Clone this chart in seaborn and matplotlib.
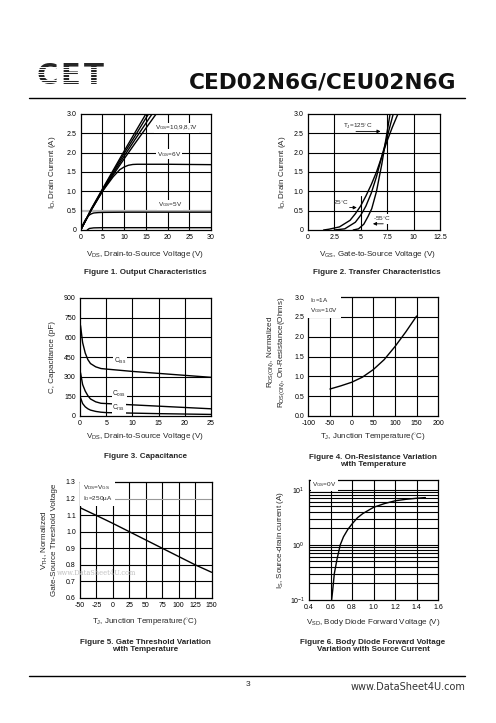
import numpy as np
import pandas as pd
import matplotlib
matplotlib.use("Agg")
import matplotlib.pyplot as plt
import seaborn as sns
from matplotlib.lines import Line2D

# ---------------- data ----------------
# Figure 1: output characteristics
vds_bundle = [0, 2.5, 5, 7.5, 10, 12.5, 15, 17.5]
id_vgs10 = [0, 0.56, 1.06, 1.55, 2.04, 2.52, 3.00, 3.46]
id_vgs9 = [0, 0.55, 1.04, 1.51, 1.98, 2.43, 2.89, 3.33]
id_vgs8 = [0, 0.54, 1.02, 1.47, 1.91, 2.34, 2.76, 3.18]
id_vgs7 = [0, 0.53, 1.00, 1.43, 1.84, 2.24, 2.63, 3.02]
vds_6 = [0, 2.5, 5, 7.5, 9, 10, 11, 12, 13, 15, 20, 25, 30]
id_vgs6 = [0, 0.53, 1.00, 1.38, 1.56, 1.63, 1.675, 1.695, 1.70, 1.70, 1.70, 1.695, 1.69]
vds_5 = [0, 0.5, 1, 1.5, 2, 2.5, 3, 4, 5, 10, 20, 30]
id_vgs5 = [0, 0.14, 0.25, 0.33, 0.39, 0.42, 0.44, 0.45, 0.455, 0.46, 0.46, 0.46]
vds_4 = [1.5, 2, 3, 5, 10, 20, 30]
id_vgs4 = [0.0, 0.04, 0.055, 0.06, 0.06, 0.06, 0.06]

# Figure 2: transfer characteristics
vgs_125 = [1.5, 2, 3, 4, 4.5, 5, 5.5, 6, 6.5, 7, 7.5, 8, 8.6]
id_125 = [0.0, 0.02, 0.08, 0.25, 0.42, 0.62, 0.88, 1.17, 1.5, 1.9, 2.3, 2.66, 3.05]
vgs_25 = [2.5, 3.5, 4.5, 5, 5.26, 5.5, 6, 6.5, 7, 7.5, 8.1]
id_25 = [0.0, 0.03, 0.2, 0.38, 0.5, 0.62, 0.95, 1.38, 1.9, 2.4, 3.02]
vgs_m55 = [4.3, 4.8, 5.3, 5.7, 6.05, 6.5, 7.0, 7.3, 7.8]
id_m55 = [0.0, 0.03, 0.15, 0.35, 0.55, 1.0, 1.7, 2.2, 3.03]

# Figure 3: capacitance
vds_cap = [0.1, 0.5, 1, 1.5, 2, 3, 4, 5, 10, 15, 20, 25]
ciss = [690, 560, 480, 430, 400, 375, 362, 358, 340, 325, 310, 295]
coss = [330, 240, 190, 155, 130, 108, 97, 95, 85, 75, 65, 55]
crss = [140, 95, 70, 55, 45, 35, 29, 26, 22, 18, 15, 12]

# Figure 4: on-resistance vs temperature
tj4 = [-50, -25, 0, 25, 50, 75, 100, 125, 150]
rds_norm = [0.68, 0.76, 0.85, 0.98, 1.17, 1.42, 1.75, 2.12, 2.52]

# Figure 5: gate threshold vs temperature
tj5 = [-50, -25, 0, 25, 50, 75, 100, 125, 150]
vth_norm = [1.145, 1.098, 1.05, 1.0, 0.95, 0.9, 0.85, 0.8, 0.755]

# Figure 6: body diode forward voltage
vsd = [0.61, 0.62, 0.635, 0.66, 0.69, 0.72, 0.76, 0.8, 0.85, 0.9, 1.0, 1.1, 1.2, 1.3, 1.4, 1.48]
isd = [0.1, 0.15, 0.3, 0.55, 1.0, 1.4, 1.9, 2.4, 3.1, 3.7, 4.8, 5.6, 6.3, 6.7, 7.0, 7.2]

# ---------------- style ----------------
sns.set_theme(style="white")
plt.rcParams['font.family'] = ['Liberation Sans', 'DejaVu Sans']
plt.rcParams['mathtext.fontset'] = 'custom'
plt.rcParams['mathtext.rm'] = 'Liberation Sans'
plt.rcParams['mathtext.it'] = 'Liberation Sans:italic'
plt.rcParams['mathtext.bf'] = 'Liberation Sans:bold'

W, H = 496, 723
fig = plt.figure(figsize=(W / 100, H / 100), dpi=100)
fig.patch.set_facecolor('white')


def rect(l, r, t, b):
    return [l / W, 1 - b / H, (r - l) / W, (b - t) / H]


def fx(x):
    return x / W


def fy(y):
    return 1 - y / H


LW_GRID = 0.8
LW_CURVE = 1.0
TICK_FS = 5
LABEL_FS = 5.8
TITLE_FS = 5.8


def setup(ax, xlim, ylim, xticks, xlabels, yticks, ylabels):
    ax.set_xlim(*xlim)
    ax.set_ylim(*ylim)
    ax.set_xticks(xticks)
    ax.set_xticklabels(xlabels)
    ax.set_yticks(yticks)
    ax.set_yticklabels(ylabels)
    ax.tick_params(length=0, labelsize=TICK_FS, pad=3, colors='black')
    ax.minorticks_off()
    for s in ax.spines.values():
        s.set_visible(True)
        s.set_color('black')
        s.set_linewidth(0.9)
    ax.set_xlabel('')
    ax.set_ylabel('')
    ax.set_facecolor('white')


def grid(ax, xs, ys):
    for x in xs:
        ax.axvline(x, color='black', lw=LW_GRID, zorder=1)
    for y in ys:
        ax.axhline(y, color='black', lw=LW_GRID, zorder=1)


def curve(ax, x, y, **kw):
    d = pd.DataFrame({'x': x, 'y': y})
    sns.lineplot(data=d, x='x', y='y', ax=ax, color=kw.pop('color', 'black'),
                 lw=kw.pop('lw', LW_CURVE), zorder=3, sort=False, **kw)


box = dict(facecolor='white', edgecolor='none', pad=0.6)

# ---------------- Figure 1 ----------------
ax1 = fig.add_axes(rect(80.7, 211, 114, 230))
grid(ax1, [5, 10, 15, 20, 25], [1.0, 1.5, 2.0, 2.5])
ax1.axhline(0.5, color='#b8b8b8', lw=1.6, zorder=1)
for yv in (id_vgs10, id_vgs9, id_vgs8, id_vgs7):
    curve(ax1, vds_bundle, yv)
curve(ax1, vds_6, id_vgs6)
curve(ax1, vds_5, id_vgs5)
curve(ax1, vds_4, id_vgs4)
setup(ax1, (0, 30), (0, 3.0), [0, 5, 10, 15, 20, 25, 30],
      ['0', '5', '10', '15', '20', '25', '30'],
      [0, 0.5, 1.0, 1.5, 2.0, 2.5, 3.0], ['0', '0.5', '1.0', '1.5', '2.0', '2.5', '3.0'])
ax1.text(17.0, 2.64, r'V$_{\rm GS}$=10,9,8,7V', fontsize=4.6, va='center', ha='left', bbox=box, zorder=5)
ax1.text(17.6, 1.96, r'V$_{\rm GS}$=6V', fontsize=4.6, va='center', ha='left', bbox=box, zorder=5)
ax1.text(17.8, 0.65, r'V$_{\rm GS}$=5V', fontsize=4.6, va='center', ha='left', bbox=box, zorder=5)

# ---------------- Figure 2 ----------------
ax2 = fig.add_axes(rect(307.7, 440, 114, 230))
grid(ax2, [2.5, 7.5, 10], [0.5, 1.0, 1.5, 2.0, 2.5])
ax2.axvline(5, ymin=0, ymax=0.29, color='black', lw=LW_GRID, zorder=1)
curve(ax2, vgs_125, id_125)
curve(ax2, vgs_25, id_25)
curve(ax2, vgs_m55, id_m55)
setup(ax2, (0, 12.5), (0, 3.0), [0, 2.5, 5, 7.5, 10, 12.5],
      ['0', '2.5', '5', '7.5', '10', '12.5'],
      [0, 0.5, 1.0, 1.5, 2.0, 2.5, 3.0], ['0', '0.5', '1.0', '1.5', '2.0', '2.5', '3.0'])
arrow = dict(arrowstyle='-|>', color='black', lw=0.6, mutation_scale=5)
ax2.text(3.3, 2.67, r'T$_{\rm J}$=125$^{\circ}$C', fontsize=4.6, va='center', ha='left', bbox=box, zorder=5)
ax2.annotate('', xy=(7.15, 2.55), xytext=(4.3, 2.55), arrowprops=arrow, zorder=6)
ax2.text(2.4, 0.69, r'25$^{\circ}$C', fontsize=4.6, va='center', ha='left', zorder=5)
ax2.annotate('', xy=(4.9, 0.58), xytext=(3.7, 0.58), arrowprops=arrow, zorder=6)
ax2.text(6.2, 0.28, r'-55$^{\circ}$C', fontsize=4.6, va='center', ha='left', bbox=box, zorder=5)
ax2.annotate('', xy=(5.9, 0.16), xytext=(7.4, 0.16), arrowprops=arrow, zorder=6)

# ---------------- Figure 3 ----------------
ax3 = fig.add_axes(rect(80, 211, 298, 416))
grid(ax3, [5, 10, 15, 20], [150, 300, 450, 600, 750])
curve(ax3, vds_cap, ciss)
curve(ax3, vds_cap, coss)
curve(ax3, vds_cap, crss)
setup(ax3, (0, 25), (0, 900), [0, 5, 10, 15, 20, 25],
      ['0', '5', '10', '15', '20', '25'],
      [0, 150, 300, 450, 600, 750, 900], ['0', '150', '300', '450', '600', '750', '900'])
ax3.text(6.4, 420, r'C$_{\rm iss}$', fontsize=4.8, va='center', ha='left', bbox=box, zorder=5)
ax3.text(6.2, 172, r'C$_{\rm oss}$', fontsize=4.8, va='center', ha='left', bbox=box, zorder=5)
ax3.text(6.2, 58, r'C$_{\rm rss}$', fontsize=4.8, va='center', ha='left', bbox=box, zorder=5)

# ---------------- Figure 4 ----------------
ax4 = fig.add_axes(rect(308.3, 438.3, 297, 416))
grid(ax4, [-50, 0, 50, 100, 150], [0.5, 1.0, 1.5, 2.0, 2.5])
curve(ax4, tj4, rds_norm)
setup(ax4, (-100, 200), (0, 3.0), [-100, -50, 0, 50, 100, 150, 200],
      ['-100', '-50', '0', '50', '100', '150', '200'],
      [0, 0.5, 1.0, 1.5, 2.0, 2.5, 3.0], ['0.0', '0.5', '1.0', '1.5', '2.0', '2.5', '3.0'])
ax4.text(-96, 2.78, 'I$_{\\rm D}$=1A\nV$_{\\rm GS}$=10V', fontsize=4.6, va='center', ha='left',
         linespacing=1.2, bbox=dict(facecolor='white', edgecolor='none', pad=2.2), zorder=5)

# ---------------- Figure 5 ----------------
ax5 = fig.add_axes(rect(80, 211.7, 482, 598))
grid(ax5, [-25, 0, 25, 50, 75, 100, 125], [0.7, 0.8, 0.9, 1.0, 1.1])
ax5.axhline(1.2, color='#999999', lw=LW_GRID, zorder=1)
curve(ax5, tj5, vth_norm)
setup(ax5, (-50, 150), (0.6, 1.3), [-50, -25, 0, 25, 50, 75, 100, 125, 150],
      ['-50', '-25', '0', '25', '50', '75', '100', '125', '150'],
      [0.6, 0.7, 0.8, 0.9, 1.0, 1.1, 1.2, 1.3],
      ['0.6', '0.7', '0.8', '0.9', '1.0', '1.1', '1.2', '1.3'])
ax5.text(-46, 1.232, 'V$_{\\rm DS}$=V$_{\\rm GS}$\nI$_{\\rm D}$=250\u00b5A', fontsize=4.6, va='center', ha='left',
         linespacing=1.25, bbox=dict(facecolor='white', edgecolor='none', pad=2.0), zorder=5)

# ---------------- Figure 6 ----------------
ax6 = fig.add_axes(rect(309, 438.3, 480, 600))
ax6.set_yscale('log')
grid(ax6, [0.6, 0.8, 1.0, 1.2, 1.4], [])
for y in [0.2, 0.3, 0.4, 0.5, 0.6, 0.7, 0.8, 0.9, 1, 2, 3, 4, 5, 6, 7, 8, 9, 10]:
    ax6.axhline(y, color='black', lw=LW_GRID, zorder=1)
curve(ax6, vsd, isd)
setup(ax6, (0.4, 1.6), (0.1, 15), [0.4, 0.6, 0.8, 1.0, 1.2, 1.4, 1.6],
      ['0.4', '0.6', '0.8', '1.0', '1.2', '1.4', '1.6'],
      [0.1, 1, 10], ['10$^{-1}$', '10$^{0}$', '10$^{1}$'])
ax6.text(0.43, 12.3, r'V$_{\rm GS}$=0V', fontsize=4.6, va='center', ha='left',
         bbox=dict(facecolor='white', edgecolor='none', pad=1.2), zorder=5)

# ---------------- labels ----------------
def xl(x, y, s, **kw):
    fig.text(fx(x), fy(y), s, ha='center', va='center', fontsize=LABEL_FS, **kw)


def yl(x, y, s, **kw):
    fig.text(fx(x), fy(y), s, ha='center', va='center', rotation=90, fontsize=LABEL_FS, **kw)


def title(x, y, s):
    fig.text(fx(x), fy(y), s, ha='center', va='center', fontsize=TITLE_FS,
             fontweight='bold', linespacing=1.15)


xl(145, 254, r'V$_{\rm DS}$, Drain-to-Source Voltage (V)')
yl(53, 172, r'I$_{\rm D}$, Drain Current (A)')
title(145, 273, 'Figure 1. Output Characteristics')

xl(377, 254, r'V$_{\rm GS}$, Gate-to-Source Voltage (V)')
yl(282, 172, r'I$_{\rm D}$, Drain Current (A)')
title(377, 273, 'Figure 2. Transfer Characteristics')

xl(145, 437, r'V$_{\rm DS}$, Drain-to-Source Voltage (V)')
yl(53, 357, 'C, Capacitance (pF)')
title(145, 457, 'Figure 3. Capacitance')

xl(373, 437, r'T$_{\rm J}$, Junction Temperature($^{\circ}$C)')
fig.text(fx(276), fy(352), 'R$_{\\rm DS(ON)}$, Normalized\nR$_{\\rm DS(ON)}$, On-Resistance(Ohms)',
         ha='center', va='center', rotation=90, fontsize=LABEL_FS, linespacing=1.1,
         multialignment='center')
title(373, 461, 'Figure 4. On-Resistance Variation\nwith Temperature')

fig.text(fx(57), fy(573), 'www.DataSheet4U.com', ha='left', va='center', fontsize=4.8,
         color='#c0c0c0', family='DejaVu Serif', zorder=20)
xl(145, 622, r'T$_{\rm J}$, Junction Temperature($^{\circ}$C)')
fig.text(fx(49), fy(540), 'V$_{\\rm TH}$, Normalized\nGate-Source Threshold Voltage',
         ha='center', va='center', rotation=90, fontsize=LABEL_FS, linespacing=1.1,
         multialignment='center')
title(145, 646, 'Figure 5. Gate Threshold Variation\nwith Temperature')

xl(373, 622, r'V$_{\rm SD}$, Body Diode Forward Voltage (V)')
yl(281, 540, r'I$_{\rm S}$, Source-drain current (A)')
title(373, 646, 'Figure 6. Body Diode Forward Voltage\nVariation with Source Current')

# ---------------- header / footer ----------------
fig.text(fx(456), fy(82), 'CED02N6G/CEU02N6G', ha='right', va='center', fontsize=15.6,
         fontweight='bold', family='DejaVu Sans', color='#111111')
fig.add_artist(Line2D([fx(29), fx(465)], [fy(98), fy(98)], color='black', lw=1.0))
for letter, lx in zip(['C', 'E', 'T'], [36, 60, 84]):
    fig.text(fx(lx), fy(75.5), letter, ha='left', va='center', fontsize=21, fontweight='bold',
             family='DejaVu Sans', zorder=1)
for yy in np.arange(66.5, 86, 2.6):
    fig.add_artist(Line2D([fx(33), fx(112)], [fy(yy), fy(yy)], color='white', lw=0.7, zorder=10))

fig.add_artist(Line2D([fx(29), fx(465)], [fy(676), fy(676)], color='black', lw=1.0))
fig.text(fx(248), fy(684), '3', ha='center', va='center', fontsize=6)
fig.text(fx(465), fy(687), 'www.DataSheet4U.com', ha='right', va='center', fontsize=7,
         family='DejaVu Sans', color='#333333')

fig.savefig('out.png', dpi=100, facecolor='white')
